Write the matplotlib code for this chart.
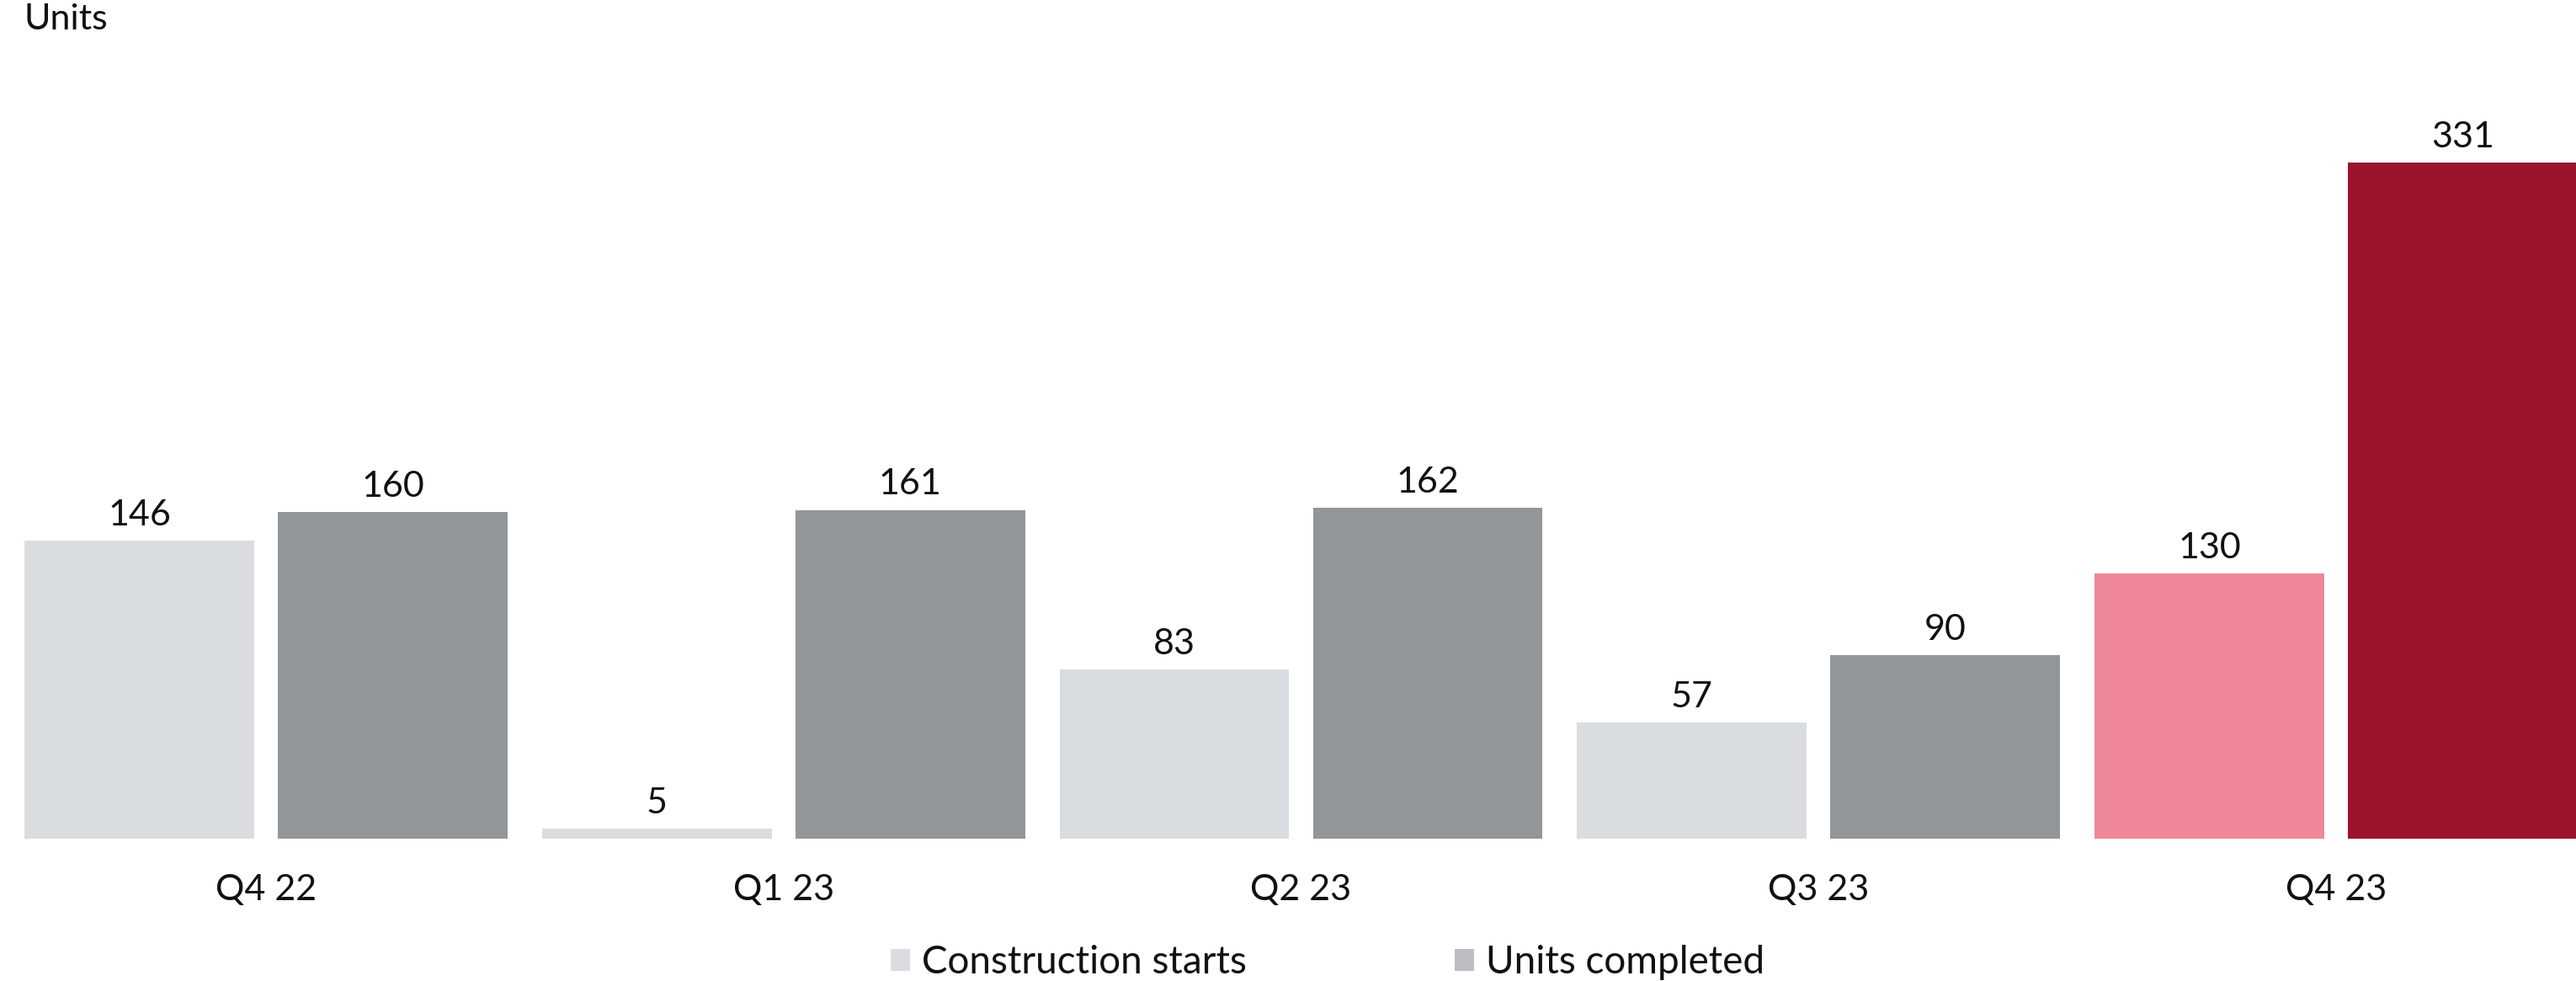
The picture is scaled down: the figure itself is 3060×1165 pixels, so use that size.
import matplotlib
matplotlib.use("Agg")
import matplotlib.pyplot as plt
from matplotlib.patches import Patch
import numpy as np

quarters = ["Q4 22", "Q1 23", "Q2 23", "Q3 23", "Q4 23"]
construction_starts = [146, 5, 83, 57, 130]
units_completed = [160, 161, 162, 90, 331]

starts_colors = ["#DADDE0", "#DADDE0", "#DADDE0", "#DADDE0", "#EE8899"]
completed_colors = ["#929699", "#929699", "#929699", "#929699", "#9B142E"]

plt.rcParams["font.family"] = ["Lato", "DejaVu Sans"]
plt.rcParams["font.weight"] = "normal"

W, H, DPI = 3060, 1165, 100
fig = plt.figure(figsize=(W / DPI, H / DPI), dpi=DPI)

base_px = 996
top_px = 74.5
ax = fig.add_axes([0, (H - base_px) / H, 1, (base_px - top_px) / H])

x = np.arange(len(quarters))
width = 0.444
offset = 0.2448

b1 = ax.bar(x - offset, construction_starts, width, color=starts_colors)
b2 = ax.bar(x + offset, units_completed, width, color=completed_colors)

fs = 31
txt = "#111111"
ax.bar_label(b1, labels=[str(v) for v in construction_starts], padding=8,
             fontsize=fs, color=txt)
ax.bar_label(b2, labels=[str(v) for v in units_completed], padding=8,
             fontsize=fs, color=txt)

ax.set_xlim(-0.514, 4.4636)
ax.set_ylim(0, 380)
ax.set_xticks(x)
ax.set_xticklabels(quarters, fontsize=fs, color=txt)
ax.tick_params(axis="x", length=0, pad=30)
ax.set_yticks([])
for s in ax.spines.values():
    s.set_visible(False)

fig.text(28 / W, 1 - 4 / H, "Units", ha="left", va="top", fontsize=fs,
         color=txt)

handles = [Patch(facecolor="#DADDE0", edgecolor="none"),
           Patch(facecolor="#BBBDC0", edgecolor="none")]
fig.legend(handles, ["Construction starts", "Units completed"],
           loc="center", bbox_to_anchor=(1577 / W, 1 - 1143 / H),
           ncol=2, frameon=False, fontsize=33, handlelength=0.5,
           handleheight=0.5, handletextpad=0.3, columnspacing=5.4,
           borderpad=0, labelcolor=txt)

fig.savefig("out.png", dpi=DPI)
